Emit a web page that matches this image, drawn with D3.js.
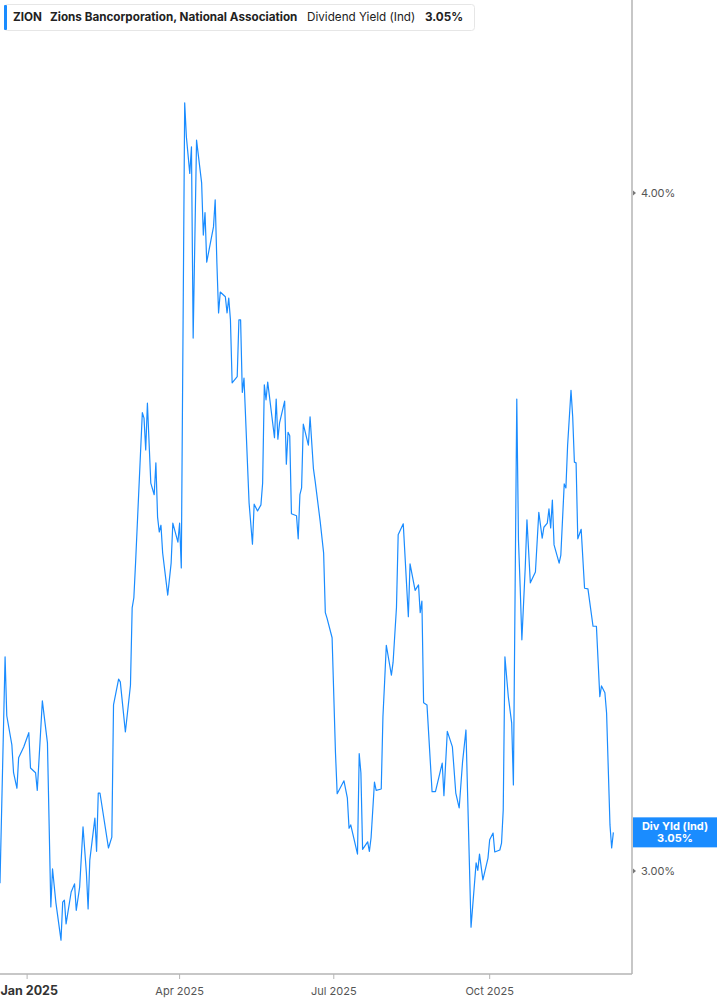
<!DOCTYPE html>
<html>
<head>
<meta charset="utf-8">
<script src="https://cdn.jsdelivr.net/npm/d3@7"></script>
<style>
	html, body { margin: 0; padding: 0; background: #fff; }
	svg { display: block; font-family: Inter, 'Noto Sans', sans-serif; }
</style>
</head>
<body>
<svg id="chart" width="717" height="1005"></svg>
<script>
// 날짜 / 배당수익률(%) - 그림에서 읽은 값
const dates = [
	'2024-12-16','2024-12-19','2024-12-20','2024-12-23','2024-12-24','2024-12-26','2024-12-27','2024-12-30',
	'2025-01-02','2025-01-03','2025-01-06','2025-01-07','2025-01-10','2025-01-13','2025-01-15','2025-01-16',
	'2025-01-18','2025-01-21','2025-01-22','2025-01-23','2025-01-24','2025-01-27','2025-01-29','2025-01-30',
	'2025-02-01','2025-02-03','2025-02-05','2025-02-06','2025-02-07','2025-02-10','2025-02-11','2025-02-12',
	'2025-02-13','2025-02-18','2025-02-20','2025-02-21','2025-02-24','2025-02-25','2025-02-28','2025-03-03',
	'2025-03-04','2025-03-05','2025-03-06','2025-03-10','2025-03-11','2025-03-12','2025-03-13','2025-03-15',
	'2025-03-17','2025-03-18','2025-03-19','2025-03-20','2025-03-21','2025-03-22','2025-03-25','2025-03-27',
	'2025-03-28','2025-03-31','2025-04-01','2025-04-02','2025-04-04','2025-04-05','2025-04-07','2025-04-08',
	'2025-04-09','2025-04-11','2025-04-14','2025-04-15','2025-04-16','2025-04-17','2025-04-21','2025-04-22',
	'2025-04-23','2025-04-24','2025-04-25','2025-04-28','2025-04-29','2025-04-30','2025-05-01','2025-05-02',
	'2025-05-05','2025-05-06','2025-05-07','2025-05-08','2025-05-09','2025-05-12','2025-05-14','2025-05-15',
	'2025-05-17','2025-05-19','2025-05-20','2025-05-21','2025-05-22','2025-05-23','2025-05-27','2025-05-28',
	'2025-05-29','2025-05-30','2025-06-02','2025-06-03','2025-06-04','2025-06-05','2025-06-06','2025-06-09',
	'2025-06-10','2025-06-11','2025-06-12','2025-06-13','2025-06-16','2025-06-17','2025-06-19','2025-06-20',
	'2025-06-23','2025-06-25','2025-06-26','2025-06-27','2025-06-30','2025-07-02','2025-07-03','2025-07-07',
	'2025-07-09','2025-07-10','2025-07-11','2025-07-15','2025-07-16','2025-07-17','2025-07-18','2025-07-21',
	'2025-07-22','2025-07-23','2025-07-25','2025-07-26','2025-07-29','2025-07-30','2025-07-31','2025-08-01',
	'2025-08-04','2025-08-05','2025-08-07','2025-08-08','2025-08-11','2025-08-14','2025-08-15','2025-08-18',
	'2025-08-20','2025-08-21','2025-08-22','2025-08-23','2025-08-25','2025-08-28','2025-08-30','2025-09-03',
	'2025-09-04','2025-09-06','2025-09-09','2025-09-11','2025-09-13','2025-09-15','2025-09-17','2025-09-20',
	'2025-09-23','2025-09-24','2025-09-25','2025-09-27','2025-09-30','2025-10-01','2025-10-03','2025-10-04',
	'2025-10-07','2025-10-08','2025-10-09','2025-10-10','2025-10-12','2025-10-14','2025-10-15','2025-10-17',
	'2025-10-18','2025-10-19','2025-10-20','2025-10-22','2025-10-23','2025-10-25','2025-10-28','2025-10-30',
	'2025-11-01','2025-11-02','2025-11-04','2025-11-05','2025-11-06','2025-11-07','2025-11-08','2025-11-11',
	'2025-11-12','2025-11-14','2025-11-15','2025-11-16','2025-11-18','2025-11-19','2025-11-20','2025-11-21',
	'2025-11-22','2025-11-24','2025-11-26','2025-11-28','2025-12-01','2025-12-03','2025-12-05','2025-12-06',
	'2025-12-08','2025-12-09','2025-12-11','2025-12-12','2025-12-13'
];
const yields = [
	2.982,3.316,3.229,3.186,3.145,3.122,3.167,3.183,
	3.204,3.152,3.145,3.119,3.251,3.189,2.947,3.003,
	2.953,2.898,2.954,2.957,2.922,2.969,2.981,2.942,
	2.976,3.065,2.997,2.944,3.016,3.078,3.029,3.115,
	3.115,3.034,3.050,3.245,3.283,3.279,3.205,3.274,
	3.388,3.403,3.454,3.676,3.668,3.621,3.690,3.572,
	3.555,3.602,3.522,3.500,3.510,3.469,3.407,3.454,
	3.513,3.485,3.513,3.447,4.133,4.083,4.029,4.068,
	3.786,4.078,4.015,3.938,3.971,3.898,3.950,3.990,
	3.897,3.823,3.854,3.847,3.823,3.845,3.813,3.720,
	3.729,3.813,3.813,3.706,3.727,3.543,3.482,3.541,
	3.531,3.540,3.572,3.717,3.695,3.721,3.639,3.696,
	3.637,3.661,3.693,3.600,3.647,3.642,3.527,3.524,
	3.490,3.555,3.565,3.659,3.628,3.670,3.593,3.575,
	3.515,3.469,3.381,3.373,3.344,3.174,3.114,3.133,
	3.108,3.063,3.068,3.025,3.173,3.145,3.032,3.043,
	3.029,3.049,3.131,3.119,3.121,3.227,3.279,3.333,
	3.289,3.308,3.389,3.496,3.512,3.375,3.453,3.414,
	3.422,3.381,3.398,3.248,3.245,3.117,3.117,3.159,
	3.111,3.206,3.183,3.115,3.093,3.161,3.208,2.917,
	3.012,3.001,3.025,2.987,3.019,3.046,3.056,3.028,
	3.031,3.041,3.090,3.316,3.257,3.218,3.127,3.696,
	3.488,3.419,3.341,3.448,3.518,3.425,3.441,3.529,
	3.491,3.507,3.513,3.534,3.506,3.547,3.481,3.454,
	3.466,3.571,3.565,3.628,3.709,3.670,3.603,3.602,
	3.490,3.504,3.417,3.416,3.361,3.361,3.257,3.273,
	3.263,3.233,3.068,3.034,3.057
];
const yTicks = [3.0, 4.0];
const xTicks = ['2025-01-01', '2025-04-01', '2025-07-01', '2025-10-01'];
const legendParts = [
	{ text: 'ZION', bold: true },
	{ text: 'Zions Bancorporation, National Association', bold: true },
	{ text: 'Dividend Yield (Ind)', bold: false },
	{ text: '3.05%', bold: true }
];

const parse = d3.timeParse('%Y-%m-%d');
const data = dates.map((d, i) => ({ date: parse(d), value: yields[i] }));
const lastVal = yields[yields.length - 1];
const pct = v => (Math.floor(v * 100 + 1e-6) / 100).toFixed(2) + '%';

const W = 717, H = 1005;
const plotRight = 632, plotBottom = 974;
const blue = '#1a8cff';

const svg = d3.select('#chart');

// 스케일
const x = d3.scaleTime()
	.domain([parse('2024-12-16'), parse('2025-12-24')])
	.range([0, plotRight]);
const y = d3.scaleLinear()
	.domain([3.0, 4.0])
	.range([871, 193]);

// 선
const line = d3.line()
	.x(d => x(d.date))
	.y(d => y(d.value));

svg.append('path')
	.datum(data)
	.attr('d', line)
	.attr('fill', 'none')
	.attr('stroke', blue)
	.attr('stroke-width', 1.2)
	.attr('stroke-linejoin', 'round');

// 오른쪽 축 (y)
const yAxis = svg.append('g')
	.attr('transform', 'translate(' + plotRight + ',0)');
yAxis.append('line')
	.attr('x1', 0).attr('x2', 0)
	.attr('y1', 0).attr('y2', plotBottom)
	.attr('stroke', '#b5b5b5')
	.attr('stroke-width', 1.5);
const yt = yAxis.selectAll('.ytick')
	.data(yTicks)
	.enter().append('g')
	.attr('transform', d => 'translate(0,' + y(d) + ')');
yt.append('path')
	.attr('d', 'M1,-2.5 L4,0 L1,2.5 Z')
	.attr('fill', '#777');
yt.append('text')
	.attr('x', 9)
	.attr('dy', '0.35em')
	.attr('font-size', 11)
	.attr('fill', '#555')
	.text(d => pct(d));

// 아래쪽 축 (x)
const xAxis = svg.append('g')
	.attr('transform', 'translate(0,' + plotBottom + ')');
xAxis.append('line')
	.attr('x1', 0).attr('x2', plotRight)
	.attr('y1', 0).attr('y2', 0)
	.attr('stroke', '#b5b5b5')
	.attr('stroke-width', 1.5);
const xt = xAxis.selectAll('.xtick')
	.data(xTicks.map(parse))
	.enter().append('g')
	.attr('transform', d => 'translate(' + x(d) + ',0)');
xt.append('line')
	.attr('y1', 0).attr('y2', 5)
	.attr('stroke', '#b5b5b5');
// 첫 라벨(연도)은 굵게, 왼쪽 끝에 맞춤
xt.append('text')
	.attr('x', (d, i) => i === 0 ? 0.5 - x(d) : 0)
	.attr('y', 21)
	.attr('text-anchor', (d, i) => i === 0 ? 'start' : 'middle')
	.attr('font-size', (d, i) => i === 0 ? 12.5 : 11)
	.attr('font-weight', (d, i) => i === 0 ? 'bold' : 'normal')
	.attr('fill', (d, i) => i === 0 ? '#333' : '#555')
	.text(d => d3.timeFormat('%b %Y')(d));

// 현재값 라벨
const lbl = svg.append('g')
	.attr('transform', 'translate(633,' + y(lastVal) + ')');
lbl.append('rect')
	.attr('x', 0).attr('y', -15)
	.attr('width', W - 633).attr('height', 30)
	.attr('fill', blue);
lbl.append('text')
	.attr('x', (W - 633) / 2).attr('y', -2)
	.attr('text-anchor', 'middle')
	.attr('font-size', 11).attr('font-weight', 'bold')
	.attr('fill', '#fff')
	.text('Div Yld (Ind)');
lbl.append('text')
	.attr('x', (W - 633) / 2).attr('y', 10)
	.attr('text-anchor', 'middle')
	.attr('font-size', 11).attr('font-weight', 'bold')
	.attr('fill', '#fff')
	.text(pct(lastVal));

// 범례
const leg = svg.append('g');
leg.append('rect')
	.attr('x', 4.5).attr('y', 4.5)
	.attr('width', 470).attr('height', 26)
	.attr('rx', 3)
	.attr('fill', '#fff')
	.attr('stroke', '#e6e6e6');
leg.append('rect')
	.attr('x', 4).attr('y', 5)
	.attr('width', 3).attr('height', 25)
	.attr('rx', 1)
	.attr('fill', blue);
const legX = [13, 50, 307, 425];
leg.selectAll('.lt')
	.data(legendParts)
	.enter().append('text')
	.attr('x', (d, i) => legX[i])
	.attr('y', 21)
	.attr('font-size', 11.7)
	.attr('font-weight', d => d.bold ? 'bold' : 'normal')
	.attr('fill', '#222')
	.text(d => d.text);
</script>
</body>
</html>
